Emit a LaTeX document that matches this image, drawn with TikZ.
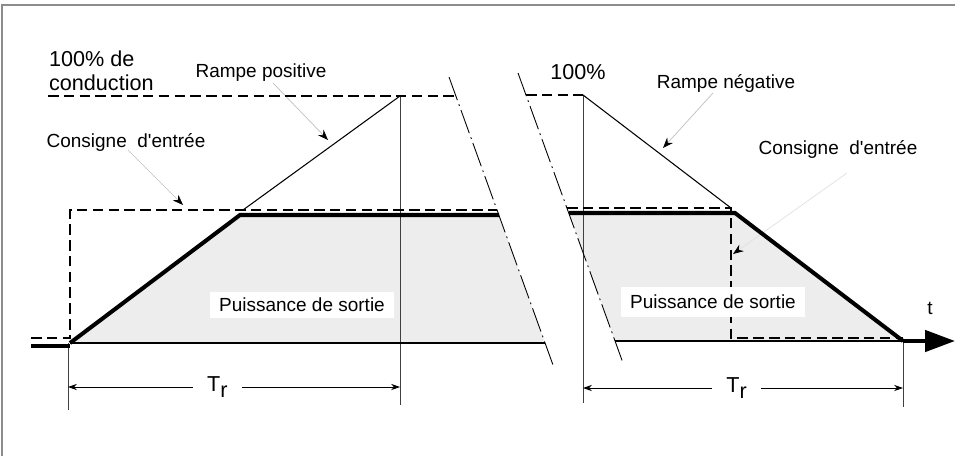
\documentclass[tikz,border=0pt]{standalone}
\usepackage{fontspec}
\setmainfont{Liberation Sans}
\usetikzlibrary{positioning}
\usetikzlibrary{calc}
\usetikzlibrary{arrows.meta}

\tikzset{
  consigne/.style={line width=1.1pt, dash pattern=on 6pt off 3pt},
  sortie/.style={line width=2.3pt},
  rampe/.style={line width=0.6pt},
  repere/.style={line width=0.5pt, black!75},
  coupure/.style={line width=0.5pt, dash pattern=on 14pt off 2.5pt on 1pt off 2.5pt},
  renvoi/.style={line width=0.4pt, black!25, -{Stealth[color=black, length=6pt, width=4.5pt, inset=2pt]}},
  cote/.style={line width=0.5pt, {Stealth[length=5pt, width=3.5pt, inset=1.5pt]}-{Stealth[length=5pt, width=3.5pt, inset=1.5pt]}},
  etiq/.style={font=\fontsize{10.8}{13}\selectfont, inner sep=1pt},
  grand/.style={font=\fontsize{12.3}{13.5}\selectfont, inner sep=1pt},
  boite/.style={etiq, fill=white, inner xsep=5pt, minimum height=15pt},
  zone/.style={fill=black!7},
}

\begin{document}
\begin{tikzpicture}[x=0.02cm, y=-0.02cm]
\useasboundingbox (0,0) rectangle (955,456);
% cadre
\coordinate (f0) at (2,456);
\coordinate (f1) at (2,5);
\coordinate (f2) at (955,5);
\draw[black!45, line width=1pt] (f0) -- (f1) -- (f2);

% Points, rampe positive
\coordinate (a0) at (31,346);
\coordinate (a) at (70,343);
\coordinate (up) at (240,215);
\coordinate (upE) at (499,215);
\coordinate (baseE) at (545,343);
\coordinate (in0) at (31,338);
\coordinate (in1) at (70,338);
\coordinate (in2) at (70,210);
\coordinate (in3) at (497,210);
\coordinate (r0) at (243,210);
\coordinate (r1) at (400,96);
\coordinate (top0) at (48,96);
\coordinate (top1) at (455,96);
\coordinate [below=6.18cm of r1] (r1b);
\coordinate (v0a) at (68,343);
\coordinate [below=1.34cm of v0a] (v0b);
\coordinate (d0) at (68,387);
\coordinate (d1) at (400,387);

% Points, rampe negative
\coordinate (p0) at (583,95);
\coordinate (top2) at (526,95);
\coordinate (p1) at (731,208);
\coordinate (c0) at (567,208);
\coordinate (c2) at (731,338);
\coordinate (c3) at (903,338);
\coordinate (q0) at (569,213);
\coordinate (q1) at (735,213);
\coordinate (q2) at (903,341);
\coordinate (b0) at (615,341);
\coordinate (axE) at (955,341);
\coordinate [below=6.16cm of p0] (p0b);
\coordinate [below=1.32cm of q2] (q2b);
\coordinate (e0) at (583,388);
\coordinate (e1) at (903,388);

% coupures
\coordinate (k0) at (449,77);
\coordinate (k1) at (553,365);
\coordinate (k2) at (518,73);
\coordinate (k3) at (623,363);

\fill[zone] (a) -- (up) -- (upE) -- (baseE) -- cycle;
\fill[zone] (q0) -- (q1) -- (q2) -- (b0) -- cycle;

\draw[repere] (r1) -- (r1b);
\draw[repere] (v0a) -- (v0b);
\draw[repere] (p0) -- (p0b);
\draw[repere] (q2) -- (q2b);

% etiquettes
\node[grand, align=left, anchor=west] (lblCond) at (47,71) {100\% de\\conduction};
\node[etiq] (lblRampP) at (261,73) {Rampe positive};
\node[etiq] (lblConsL) at (126,142) {Consigne~~d\textquotesingle entrée};
\node[grand] (lblCent) at (578,72) {100\%};
\node[etiq] (lblRampN) at (726,83) {Rampe négative};
\node[etiq] (lblConsR) at (838,149) {Consigne~~d\textquotesingle entrée};
\node[etiq] (lblT) at (930,308) {t};

\coordinate (lRP0) at (273,83);
\coordinate (lRP1) at (328,140);
\coordinate (lCL0) at (128,150);
\coordinate (lCL1) at (183,205);
\coordinate (lRN0) at (713,93);
\coordinate (lRN1) at (663,148);
\coordinate (lCR0) at (847,173);
\coordinate (lCR1) at (733,254);
\draw[renvoi] (lRP0) -- (lRP1);
\draw[renvoi] (lCL0) -- (lCL1);
\draw[renvoi] (lRN0) -- (lRN1);
\draw[renvoi, black!12] (lCR0) -- (lCR1);

% consigne
\draw[consigne] (in0) -- (in1) -- (in2) -- (in3);
\draw[consigne] (top0) -- (top1);
\draw[consigne] (top2) -- (p0);
\draw[consigne] (c0) -- (p1) -- (c2) -- (c3);

% rampes
\draw[rampe] (r0) -- (r1);
\draw[rampe] (p0) -- (p1);

% sortie
\draw[line width=0.8pt] (a) -- (baseE);
\draw[line width=0.8pt] (b0) -- (q2);
\draw[sortie] (a0) -- (a0 -| a);
\draw[sortie, line join=miter] (a) -- (up) -- (upE);
\draw[sortie, line join=miter] (q0) -- (q1) -- (q2);
\draw[sortie, -{Triangle[length=17pt, width=12pt]}] (q2) -- (axE);

\draw[coupure] (k0) -- (k1);
\draw[coupure] (k2) -- (k3);

\node[boite] (lblPuisL) at (302,305) {Puissance de sortie};
\node[boite, minimum height=17pt] (lblPuisR) at (713,302) {Puissance de sortie};

% cotes
\draw[cote] (d0) -- node[grand, fill=white, inner xsep=8pt, pos=0.45] (trL) {T\raisebox{-0.5ex}{r}} (d1);
\draw[cote] (e0) -- node[grand, fill=white, inner xsep=8pt, pos=0.48] (trR) {T\raisebox{-0.5ex}{r}} (e1);
\end{tikzpicture}
\end{document}
